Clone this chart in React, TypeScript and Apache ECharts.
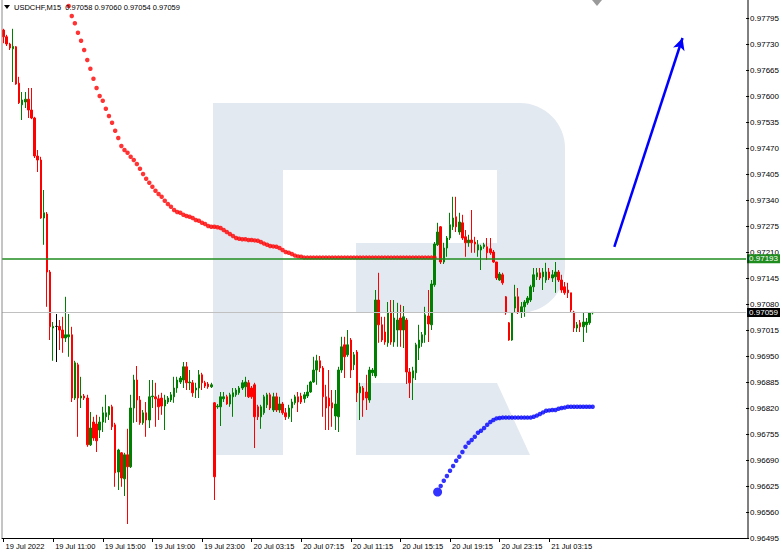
import React, { useEffect, useRef } from 'react';
import * as echarts from 'echarts';

// ---- Data (USDCHF, M15) ----
const opens = [
  0.97765, 0.97748, 0.97730, 0.97718, 0.97723, 0.97632, 0.97578, 0.97585, 0.97592, 0.97565,
  0.97545, 0.97450, 0.97440, 0.97295, 0.97305, 0.97160, 0.97020, 0.97024, 0.97024, 0.97015,
  0.96995, 0.96998, 0.97003, 0.96845, 0.96928, 0.96845, 0.96850, 0.96845, 0.96728, 0.96785,
  0.96780, 0.96765, 0.96785, 0.96798, 0.96803, 0.96823, 0.96778, 0.96660, 0.96708, 0.96643,
  0.96703, 0.96673, 0.96820, 0.96890, 0.96840, 0.96783, 0.96808, 0.96790, 0.96848, 0.96848,
  0.96843, 0.96845, 0.96825, 0.96835, 0.96840, 0.96848, 0.96870, 0.96885, 0.96890, 0.96923,
  0.96883, 0.96883, 0.96865, 0.96870, 0.96903, 0.96883, 0.96880, 0.96873, 0.96833, 0.96823,
  0.96823, 0.96843, 0.96848, 0.96830, 0.96848, 0.96853, 0.96858, 0.96870, 0.96873, 0.96883,
  0.96870, 0.96878, 0.96823, 0.96798, 0.96808, 0.96828, 0.96853, 0.96815, 0.96848, 0.96815,
  0.96830, 0.96808, 0.96798, 0.96820, 0.96833, 0.96848, 0.96850, 0.96843, 0.96850, 0.96860,
  0.96885, 0.96915, 0.96938, 0.96920, 0.96848, 0.96845, 0.96833, 0.96800, 0.96798, 0.96915,
  0.96978, 0.96953, 0.96990, 0.96928, 0.96960, 0.96858, 0.96870, 0.96860, 0.96840, 0.96908,
  0.96900, 0.97090, 0.97028, 0.97010, 0.96983, 0.97060, 0.96985, 0.97015, 0.97045, 0.97015,
  0.97040, 0.96910, 0.96895, 0.96908, 0.96970, 0.96983, 0.97003, 0.97050, 0.97028, 0.97128,
  0.97228, 0.97273, 0.97185, 0.97220, 0.97245, 0.97273, 0.97298, 0.97260, 0.97283, 0.97248,
  0.97233, 0.97240, 0.97235, 0.97215, 0.97215, 0.97223, 0.97223, 0.97218, 0.97210, 0.97185,
  0.97140, 0.97153, 0.97098, 0.97033, 0.96990, 0.97070, 0.97098, 0.97060, 0.97073, 0.97083,
  0.97090, 0.97123, 0.97148, 0.97158, 0.97148, 0.97140, 0.97160, 0.97145, 0.97148, 0.97160,
  0.97140, 0.97123, 0.97115, 0.97108, 0.97060, 0.97020, 0.97033, 0.97023, 0.97028, 0.97033,
  0.97058,
];
const closes = [
  0.97748, 0.97730, 0.97720, 0.97724, 0.97630, 0.97583, 0.97590, 0.97592, 0.97565, 0.97545,
  0.97450, 0.97440, 0.97295, 0.97308, 0.97160, 0.97023, 0.97024, 0.97024, 0.97015, 0.96995,
  0.97003, 0.97003, 0.96845, 0.96933, 0.96845, 0.96850, 0.96845, 0.96728, 0.96770, 0.96745,
  0.96738, 0.96785, 0.96808, 0.96808, 0.96823, 0.96773, 0.96658, 0.96715, 0.96645, 0.96703,
  0.96673, 0.96820, 0.96890, 0.96840, 0.96783, 0.96808, 0.96790, 0.96848, 0.96850, 0.96843,
  0.96823, 0.96825, 0.96840, 0.96845, 0.96853, 0.96870, 0.96890, 0.96895, 0.96923, 0.96883,
  0.96885, 0.96858, 0.96870, 0.96903, 0.96883, 0.96875, 0.96873, 0.96878, 0.96648, 0.96825,
  0.96848, 0.96848, 0.96830, 0.96853, 0.96858, 0.96865, 0.96870, 0.96883, 0.96885, 0.96848,
  0.96848, 0.96798, 0.96798, 0.96823, 0.96848, 0.96853, 0.96820, 0.96848, 0.96815, 0.96830,
  0.96808, 0.96798, 0.96820, 0.96835, 0.96848, 0.96835, 0.96835, 0.96853, 0.96860, 0.96885,
  0.96915, 0.96938, 0.96920, 0.96848, 0.96820, 0.96825, 0.96820, 0.96830, 0.96915, 0.96973,
  0.96948, 0.96978, 0.96915, 0.96953, 0.96858, 0.96873, 0.96840, 0.96845, 0.96915, 0.96915,
  0.97090, 0.97028, 0.96990, 0.96985, 0.97058, 0.96985, 0.97045, 0.97040, 0.97015, 0.97048,
  0.96910, 0.96883, 0.96913, 0.96978, 0.96990, 0.97003, 0.97053, 0.97030, 0.97130, 0.97230,
  0.97260, 0.97185, 0.97220, 0.97245, 0.97278, 0.97295, 0.97273, 0.97285, 0.97245, 0.97233,
  0.97240, 0.97233, 0.97230, 0.97228, 0.97223, 0.97228, 0.97208, 0.97208, 0.97185, 0.97145,
  0.97155, 0.97133, 0.97058, 0.96990, 0.97058, 0.97098, 0.97060, 0.97073, 0.97085, 0.97095,
  0.97123, 0.97153, 0.97158, 0.97145, 0.97160, 0.97160, 0.97145, 0.97153, 0.97160, 0.97140,
  0.97115, 0.97108, 0.97108, 0.97065, 0.97020, 0.97028, 0.97023, 0.97035, 0.97035, 0.97058,
  0.97059,
];
const lows = [
  0.97732, 0.97725, 0.97715, 0.97635, 0.97628, 0.97580, 0.97540, 0.97570, 0.97545, 0.97542,
  0.97445, 0.97410, 0.97293, 0.97228, 0.97073, 0.96990, 0.96938, 0.96935, 0.96965, 0.96958,
  0.96985, 0.96948, 0.96835, 0.96840, 0.96748, 0.96820, 0.96840, 0.96723, 0.96725, 0.96738,
  0.96710, 0.96745, 0.96760, 0.96783, 0.96790, 0.96765, 0.96623, 0.96615, 0.96623, 0.96600,
  0.96530, 0.96670, 0.96783, 0.96785, 0.96778, 0.96778, 0.96748, 0.96770, 0.96820, 0.96773,
  0.96790, 0.96803, 0.96765, 0.96830, 0.96835, 0.96833, 0.96858, 0.96880, 0.96870, 0.96865,
  0.96865, 0.96848, 0.96845, 0.96845, 0.96865, 0.96870, 0.96868, 0.96870, 0.96590, 0.96818,
  0.96775, 0.96835, 0.96828, 0.96823, 0.96798, 0.96848, 0.96853, 0.96865, 0.96848, 0.96845,
  0.96843, 0.96720, 0.96790, 0.96768, 0.96803, 0.96820, 0.96815, 0.96810, 0.96810, 0.96808,
  0.96803, 0.96790, 0.96793, 0.96785, 0.96828, 0.96810, 0.96830, 0.96833, 0.96845, 0.96858,
  0.96883, 0.96878, 0.96910, 0.96798, 0.96765, 0.96765, 0.96773, 0.96765, 0.96760, 0.96908,
  0.96895, 0.96948, 0.96895, 0.96915, 0.96835, 0.96790, 0.96798, 0.96815, 0.96833, 0.96900,
  0.96895, 0.96983, 0.96985, 0.96978, 0.96973, 0.96978, 0.96973, 0.96973, 0.96973, 0.96970,
  0.96880, 0.96845, 0.96840, 0.96890, 0.96940, 0.96973, 0.96983, 0.96985, 0.97015, 0.97123,
  0.97225, 0.97180, 0.97180, 0.97198, 0.97240, 0.97265, 0.97260, 0.97253, 0.97240, 0.97198,
  0.97223, 0.97208, 0.97208, 0.97198, 0.97165, 0.97218, 0.97190, 0.97203, 0.97183, 0.97140,
  0.97138, 0.97128, 0.97053, 0.96988, 0.96988, 0.97058, 0.97055, 0.97045, 0.97048, 0.97078,
  0.97085, 0.97110, 0.97140, 0.97140, 0.97115, 0.97133, 0.97140, 0.97135, 0.97108, 0.97135,
  0.97108, 0.97103, 0.97095, 0.97060, 0.97010, 0.97010, 0.97010, 0.96985, 0.97008, 0.97028,
  0.97054,
];
const highs = [
  0.97768, 0.97753, 0.97733, 0.97768, 0.97725, 0.97648, 0.97610, 0.97610, 0.97620, 0.97620,
  0.97548, 0.97465, 0.97448, 0.97365, 0.97310, 0.97165, 0.97035, 0.97055, 0.97040, 0.97048,
  0.97098, 0.97055, 0.97023, 0.96938, 0.96933, 0.96898, 0.96855, 0.96853, 0.96810, 0.96798,
  0.96803, 0.96798, 0.96823, 0.96853, 0.96825, 0.96828, 0.96783, 0.96718, 0.96710, 0.96708,
  0.96768, 0.96853, 0.96903, 0.96925, 0.96850, 0.96815, 0.96835, 0.96890, 0.96890, 0.96883,
  0.96853, 0.96858, 0.96853, 0.96850, 0.96860, 0.96898, 0.96898, 0.96900, 0.96935, 0.96935,
  0.96915, 0.96890, 0.96883, 0.96915, 0.96908, 0.96888, 0.96885, 0.96883, 0.96835, 0.96830,
  0.96860, 0.96860, 0.96853, 0.96858, 0.96870, 0.96870, 0.96875, 0.96890, 0.96898, 0.96890,
  0.96875, 0.96883, 0.96828, 0.96828, 0.96853, 0.96858, 0.96858, 0.96858, 0.96858, 0.96848,
  0.96835, 0.96820, 0.96828, 0.96843, 0.96853, 0.96860, 0.96858, 0.96860, 0.96878, 0.96888,
  0.96948, 0.96953, 0.96950, 0.96925, 0.96878, 0.96915, 0.96865, 0.96865, 0.96923, 0.96998,
  0.96998, 0.97015, 0.96995, 0.96960, 0.96965, 0.96883, 0.96875, 0.96903, 0.96923, 0.96920,
  0.97115, 0.97158, 0.97048, 0.97048, 0.97085, 0.97090, 0.97090, 0.97083, 0.97078, 0.97075,
  0.97045, 0.96920, 0.96923, 0.96983, 0.97028, 0.97010, 0.97073, 0.97115, 0.97140, 0.97235,
  0.97283, 0.97275, 0.97233, 0.97250, 0.97308, 0.97348, 0.97348, 0.97308, 0.97303, 0.97265,
  0.97253, 0.97315, 0.97248, 0.97240, 0.97228, 0.97233, 0.97245, 0.97245, 0.97215, 0.97185,
  0.97160, 0.97158, 0.97100, 0.97035, 0.97060, 0.97128, 0.97120, 0.97085, 0.97090, 0.97100,
  0.97128, 0.97170, 0.97170, 0.97170, 0.97170, 0.97183, 0.97170, 0.97165, 0.97185, 0.97165,
  0.97153, 0.97135, 0.97133, 0.97108, 0.97063, 0.97035, 0.97040, 0.97058, 0.97045, 0.97060,
  0.97060,
];

// Red dotted indicator, starting at bar 21
const redDotStart = 21;
const redDots = [
  0.97825, 0.97800, 0.97782, 0.97758, 0.97738, 0.97715, 0.97690, 0.97668, 0.97643, 0.97620,
  0.97600, 0.97588, 0.97568, 0.97550, 0.97533, 0.97513, 0.97495, 0.97475, 0.97465, 0.97458,
  0.97448, 0.97440, 0.97430, 0.97418, 0.97405, 0.97393, 0.97383, 0.97373, 0.97363, 0.97355,
  0.97348, 0.97338, 0.97330, 0.97323, 0.97315, 0.97310, 0.97308, 0.97303, 0.97300, 0.97298,
  0.97295, 0.97290, 0.97288, 0.97283, 0.97280, 0.97275, 0.97273, 0.97273, 0.97272, 0.97270,
  0.97265, 0.97260, 0.97255, 0.97250, 0.97245, 0.97243, 0.97242, 0.97242, 0.97240, 0.97240,
  0.97239, 0.97238, 0.97235, 0.97231, 0.97228, 0.97225, 0.97224, 0.97223, 0.97220, 0.97215,
  0.97210, 0.97208, 0.97205, 0.97201, 0.97199, 0.97198, 0.97196, 0.97196, 0.97196, 0.97196,
  0.97196, 0.97196, 0.97196, 0.97196, 0.97196, 0.97196, 0.97196, 0.97196, 0.97196, 0.97196,
  0.97196, 0.97196, 0.97196, 0.97196, 0.97196, 0.97196, 0.97196, 0.97196, 0.97196, 0.97196,
  0.97196, 0.97196, 0.97196, 0.97196, 0.97196, 0.97196, 0.97196, 0.97196, 0.97196, 0.97196,
  0.97196, 0.97196, 0.97196, 0.97196, 0.97196, 0.97196, 0.97196, 0.97196, 0.97196,
];
// Blue dotted indicator, starting at bar 140
const blueDotStart = 140;
const blueDots = [
  0.96610, 0.96625, 0.96638, 0.96650, 0.96663, 0.96675, 0.96688, 0.96698, 0.96710, 0.96723,
  0.96733, 0.96740, 0.96748, 0.96758, 0.96763, 0.96770, 0.96778, 0.96785, 0.96790, 0.96794,
  0.96795, 0.96796, 0.96796, 0.96796, 0.96796, 0.96796, 0.96796, 0.96796, 0.96796, 0.96796,
  0.96796, 0.96798, 0.96801, 0.96805, 0.96809, 0.96813, 0.96814, 0.96815, 0.96815, 0.96818,
  0.96820, 0.96821, 0.96823, 0.96823, 0.96823, 0.96823, 0.96823, 0.96823, 0.96823, 0.96823,
  0.96823,
];

const tickLabels = [
  '19 Jul 2022', '19 Jul 11:00', '19 Jul 15:00', '19 Jul 19:00', '19 Jul 23:00', '20 Jul 03:15',
  '20 Jul 07:15', '20 Jul 11:15', '20 Jul 15:15', '20 Jul 19:15', '20 Jul 23:15', '21 Jul 03:15',
];
const barsPerTick = 16;
const totalSlots = 240;
const symbolName = 'USDCHF,M15';
const yMin = 0.96495;
const yMax = 0.97795;
const yStep = 0.00065;
const greenLevel = 0.97193;
const priceLevel = 0.97059;
const arrowStart = [197, 0.97223];
const arrowEnd = [219, 0.97745];

const FONT = 'Liberation Sans, Arial, sans-serif';

export default function App() {
  const ref = useRef<HTMLDivElement>(null);

  useEffect(() => {
    if (!ref.current) return;
    const chart = echarts.init(ref.current, undefined, { renderer: 'svg' });
    const slots = Array.from({ length: totalSlots }, (_, i) => String(i));
    const candles = opens.map((o, i) => [o, closes[i], lows[i], highs[i]]);
    const last = opens.length - 1;
    const header = `${symbolName}  ${opens[last].toFixed(5)} ${highs[last].toFixed(5)} ${lows[last].toFixed(5)} ${closes[last].toFixed(5)}`;
    const showTick = (idx: number) => idx % barsPerTick === 0 && idx / barsPerTick < tickLabels.length;
    const wm = '#e3e9f1';

    chart.setOption({
      animation: false,
      backgroundColor: '#ffffff',
      grid: { left: 2, right: 34, top: 18, bottom: 19 },
      xAxis: {
        type: 'category',
        data: slots,
        boundaryGap: true,
        axisLine: { show: true, lineStyle: { color: '#000', width: 1 } },
        axisTick: { show: true, interval: (i: number) => showTick(i), alignWithLabel: true, length: 4, lineStyle: { color: '#000' } },
        axisLabel: {
          interval: (i: number) => showTick(i),
          formatter: (_v: string, i: number) => (showTick(i) ? tickLabels[i / barsPerTick] : ''),
          align: 'left',
          fontSize: 7.5,
          fontFamily: FONT,
          color: '#000',
          margin: 4,
          padding: [0, 0, 0, 2],
        },
        splitLine: { show: false },
      },
      yAxis: {
        type: 'value',
        position: 'right',
        min: yMin,
        max: yMax,
        interval: yStep,
        scale: true,
        axisLine: { show: false },
        axisTick: { show: true, length: 3, lineStyle: { color: '#000' } },
        axisLabel: {
          formatter: (v: number) => v.toFixed(5),
          fontSize: 8,
          fontFamily: FONT,
          color: '#000',
          margin: 4,
        },
        splitLine: { show: false },
      },
      graphic: [
        // watermark R
        { type: 'rect', z: 0, silent: true, shape: { x: 213, y: 103, width: 70, height: 352 }, style: { fill: wm } },
        { type: 'rect', z: 0, silent: true, shape: { x: 213, y: 103, width: 352, height: 67, r: [0, 45, 0, 0] }, style: { fill: wm } },
        { type: 'rect', z: 0, silent: true, shape: { x: 497, y: 150, width: 68, height: 118 }, style: { fill: wm } },
        { type: 'rect', z: 0, silent: true, shape: { x: 356, y: 243, width: 209, height: 70, r: [0, 0, 45, 0] }, style: { fill: wm } },
        { type: 'polygon', z: 0, silent: true, shape: { points: [[356, 383], [497, 383], [530, 455], [356, 455]] }, style: { fill: wm } },
        // frame
        { type: 'line', z: 10, silent: true, shape: { x1: 2, y1: 0, x2: 2, y2: 538 }, style: { stroke: '#8a8a8a', lineWidth: 1 } },
        { type: 'line', z: 10, silent: true, shape: { x1: 748, y1: 0, x2: 748, y2: 538 }, style: { stroke: '#000', lineWidth: 1 } },
        // chart shift marker
        { type: 'polygon', z: 10, silent: true, shape: { points: [[592, 0], [602, 0], [597, 6]] }, style: { fill: '#9a9a9a' } },
        // header
        { type: 'polygon', z: 10, silent: true, shape: { points: [[4, 5], [10, 5], [7, 9]] }, style: { fill: '#000' } },
        { type: 'text', z: 10, silent: true, x: 14, y: 7, style: { text: header, fontSize: 7.5, fontFamily: FONT, fill: '#000', verticalAlign: 'middle' } },
      ],
      series: [
        {
          type: 'candlestick',
          data: candles,
          barWidth: 2,
          z: 3,
          itemStyle: {
            color: '#008000',
            color0: '#ff0000',
            borderColor: '#008000',
            borderColor0: '#ff0000',
            borderColorDoji: '#000000',
            borderWidth: 1,
          },
        },
        {
          type: 'scatter',
          data: redDots.map((v, i) => [redDotStart + i, v]),
          symbolSize: 4.5,
          clip: false,
          z: 4,
          itemStyle: { color: '#ff0000' },
          markLine: {
            silent: true,
            precision: 5,
            symbol: ['none', 'none'],
            animation: false,
            data: [
              {
                yAxis: greenLevel,
                lineStyle: { color: '#1f8c1f', width: 1.5, type: 'solid' },
                label: {
                  show: true, position: 'end', distance: 1, formatter: greenLevel.toFixed(5),
                  color: '#fff', backgroundColor: '#1f8c1f', padding: [1, 2, 0, 2], fontSize: 8, fontFamily: FONT,
                },
              },
              {
                yAxis: priceLevel,
                lineStyle: { color: '#c0c0c0', width: 1, type: 'solid' },
                label: {
                  show: true, position: 'end', distance: 1, formatter: priceLevel.toFixed(5),
                  color: '#fff', backgroundColor: '#000', padding: [1, 2, 0, 2], fontSize: 8, fontFamily: FONT,
                },
              },
            ],
          },
        },
        {
          type: 'scatter',
          data: blueDots.map((v, i) => [blueDotStart + i, v]),
          symbolSize: (_v: any, p: any) => (p.dataIndex === 0 ? 9 : 4.5),
          z: 4,
          itemStyle: { color: '#0000ff' },
          markLine: {
            silent: true,
            precision: 5,
            symbol: ['none', 'arrow'],
            symbolSize: [9, 12],
            animation: false,
            label: { show: false },
            lineStyle: { color: '#0000ff', width: 2.5, type: 'solid' },
            data: [[{ coord: arrowStart }, { coord: arrowEnd }]],
          },
        },
      ],
    });
    return () => chart.dispose();
  }, []);

  return <div ref={ref} style={{ position: 'fixed', left: 0, top: 0, width: 782, height: 557 }} />;
}
